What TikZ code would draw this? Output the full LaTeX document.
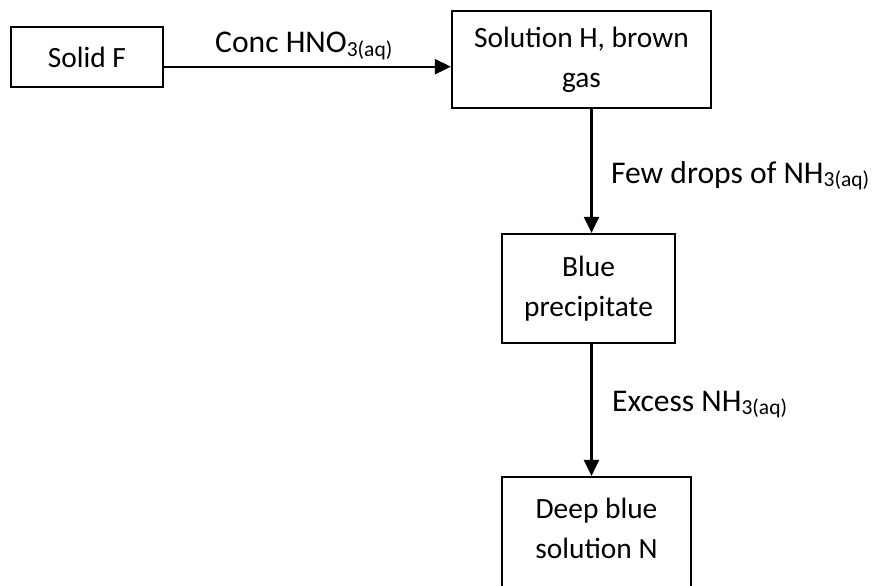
\documentclass[tikz,border=0pt]{standalone}
\usepackage{fontspec}
\setmainfont{Carlito}
\usetikzlibrary{arrows.meta}
\newcommand\chemsub[1]{\raisebox{-3.5pt}{\fontsize{21.5}{21.5}\selectfont #1}}
\begin{document}
\begin{tikzpicture}[x=1pt,y=-1pt,
  box/.style={draw, line width=2.2pt, rectangle, inner sep=0pt, align=center,
    font=\fontsize{29.4}{40}\selectfont},
  arr/.style={line width=2.2pt, -{Triangle[length=16pt,width=15pt]}},
  lbl/.style={font=\fontsize{31.6}{38}\selectfont, inner sep=0pt, anchor=base west}]
\useasboundingbox[fill=white] (0,0) rectangle (873,586);
\node[box, minimum width=152pt, minimum height=60pt] (F) at (87,57) {Solid F};
\node[box, minimum width=259pt, minimum height=97pt] (H) at (581.5,59.5) {Solution H, brown\\gas};
\node[box, minimum width=173pt, minimum height=109pt] (B) at (588.5,288.5) {Blue\\precipitate};
\node[box, minimum width=189pt, minimum height=120pt, text height=60.6pt, text depth=18.6pt] (N) at (596.5,537) {Deep blue\\solution N};
\coordinate (fa) at ([yshift=-9.7pt]F.east);
\coordinate (ax) at (591.5,0);
\draw[arr] (fa) -- (fa -| H.west)
  node[lbl, pos=0, shift={(50pt,14pt)}] (l1) {Conc HNO\chemsub{3(aq)}};
\draw[arr] (H.south -| ax) -- (B.north -| ax)
  node[lbl, pos=0, shift={(18.5pt,-74pt)}] (l2) {Few drops of NH\chemsub{3(aq)}};
\draw[arr] (B.south -| ax) -- (N.north -| ax)
  node[lbl, pos=0, shift={(19.5pt,-67pt)}] (l3) {Excess NH\chemsub{3(aq)}};
\end{tikzpicture}
\end{document}
